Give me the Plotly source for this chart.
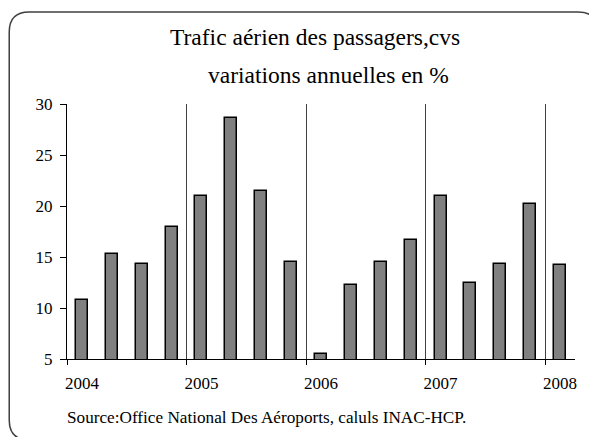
import plotly.graph_objects as go

# quarterly series, 2004 Q1 -> 2008 Q1
quarters = ["2004T1", "2004T2", "2004T3", "2004T4",
            "2005T1", "2005T2", "2005T3", "2005T4",
            "2006T1", "2006T2", "2006T3", "2006T4",
            "2007T1", "2007T2", "2007T3", "2007T4",
            "2008T1"]
variations = [10.8, 15.3, 14.3, 17.9,
              21.0, 28.6, 21.5, 14.5,
              5.5, 12.3, 14.5, 16.7,
              21.0, 12.5, 14.3, 20.2,
              14.2]
years = ["2004", "2005", "2006", "2007", "2008"]

W, H = 589, 437
L, R, T, B = 67, 12, 104, 78
pw, ph = W - L - R, H - T - B


def px(x):
    return (x - L) / pw


def py(y):
    return (H - B - y) / ph


FONT = "Liberation Serif, Times New Roman, serif"
x_idx = list(range(len(quarters)))
boundaries = [i - 0.5 for i in range(0, len(quarters), 4)]

fig = go.Figure()
fig.add_trace(
    go.Bar(
        x=x_idx,
        y=variations,
        width=0.4,
        marker={"color": "#808080", "line": {"color": "black", "width": 1.5}},
        hovertext=quarters,
    )
)

# rounded frame around the whole chart (runs off the right / bottom edge)
x0, y0, x1, y1, r = 9, 12, 600, 440, 20
frame = (f"M {px(x0)},{py(y1 - r)} L {px(x0)},{py(y0 + r)} "
         f"Q {px(x0)},{py(y0)} {px(x0 + r)},{py(y0)} "
         f"L {px(x1 - r)},{py(y0)} Q {px(x1)},{py(y0)} {px(x1)},{py(y0 + r)} "
         f"L {px(x1)},{py(y1 - r)} Q {px(x1)},{py(y1)} {px(x1 - r)},{py(y1)} "
         f"L {px(x0 + r)},{py(y1)} Q {px(x0)},{py(y1)} {px(x0)},{py(y1 - r)} Z")

tick_font = dict(family=FONT, size=17, color="black")

fig.update_layout(
    width=W,
    height=H,
    margin={"l": L, "r": R, "t": T, "b": B},
    paper_bgcolor="white",
    plot_bgcolor="white",
    showlegend=False,
    font=dict(family=FONT, size=17, color="black"),
    bargap=0,
    shapes=[dict(type="path", xref="paper", yref="paper", path=frame,
                 line=dict(color="#404040", width=1.5), layer="below")],
    xaxis=dict(
        range=[-0.5, len(quarters) - 0.5],
        tickmode="array",
        tickvals=boundaries,
        ticktext=years,
        ticklabelshift=15,
        ticklabelstandoff=4,
        ticks="outside",
        ticklen=5,
        tickcolor="black",
        showline=True,
        linecolor="black",
        linewidth=1,
        showgrid=True,
        gridcolor="#404040",
        gridwidth=1,
        zeroline=False,
        tickfont=tick_font,
    ),
    yaxis=dict(
        range=[5, 30],
        tickmode="array",
        tickvals=[5, 10, 15, 20, 25, 30],
        ticks="outside",
        ticklen=6,
        tickcolor="black",
        ticklabelstandoff=4,
        showline=True,
        linecolor="black",
        linewidth=1,
        showgrid=False,
        zeroline=False,
        tickfont=tick_font,
    ),
    annotations=[
        dict(text="Trafic aérien des passagers,cvs", xref="paper", yref="paper",
             x=px(316), y=py(37), xanchor="center", yanchor="middle",
             showarrow=False, font=dict(family=FONT, size=23.5)),
        dict(text="variations annuelles en %", xref="paper", yref="paper",
             x=px(330), y=py(75), xanchor="center", yanchor="middle",
             showarrow=False, font=dict(family=FONT, size=23.5)),
        dict(text="Source:Office National Des Aéroports, caluls INAC-HCP.",
             xref="paper", yref="paper", x=px(65), y=py(417),
             xanchor="left", yanchor="middle", showarrow=False,
             font=dict(family=FONT, size=17.2)),
    ],
)

fig.write_html("out.html", config={"displayModeBar": False},
               post_script="document.body.style.margin='0';")
